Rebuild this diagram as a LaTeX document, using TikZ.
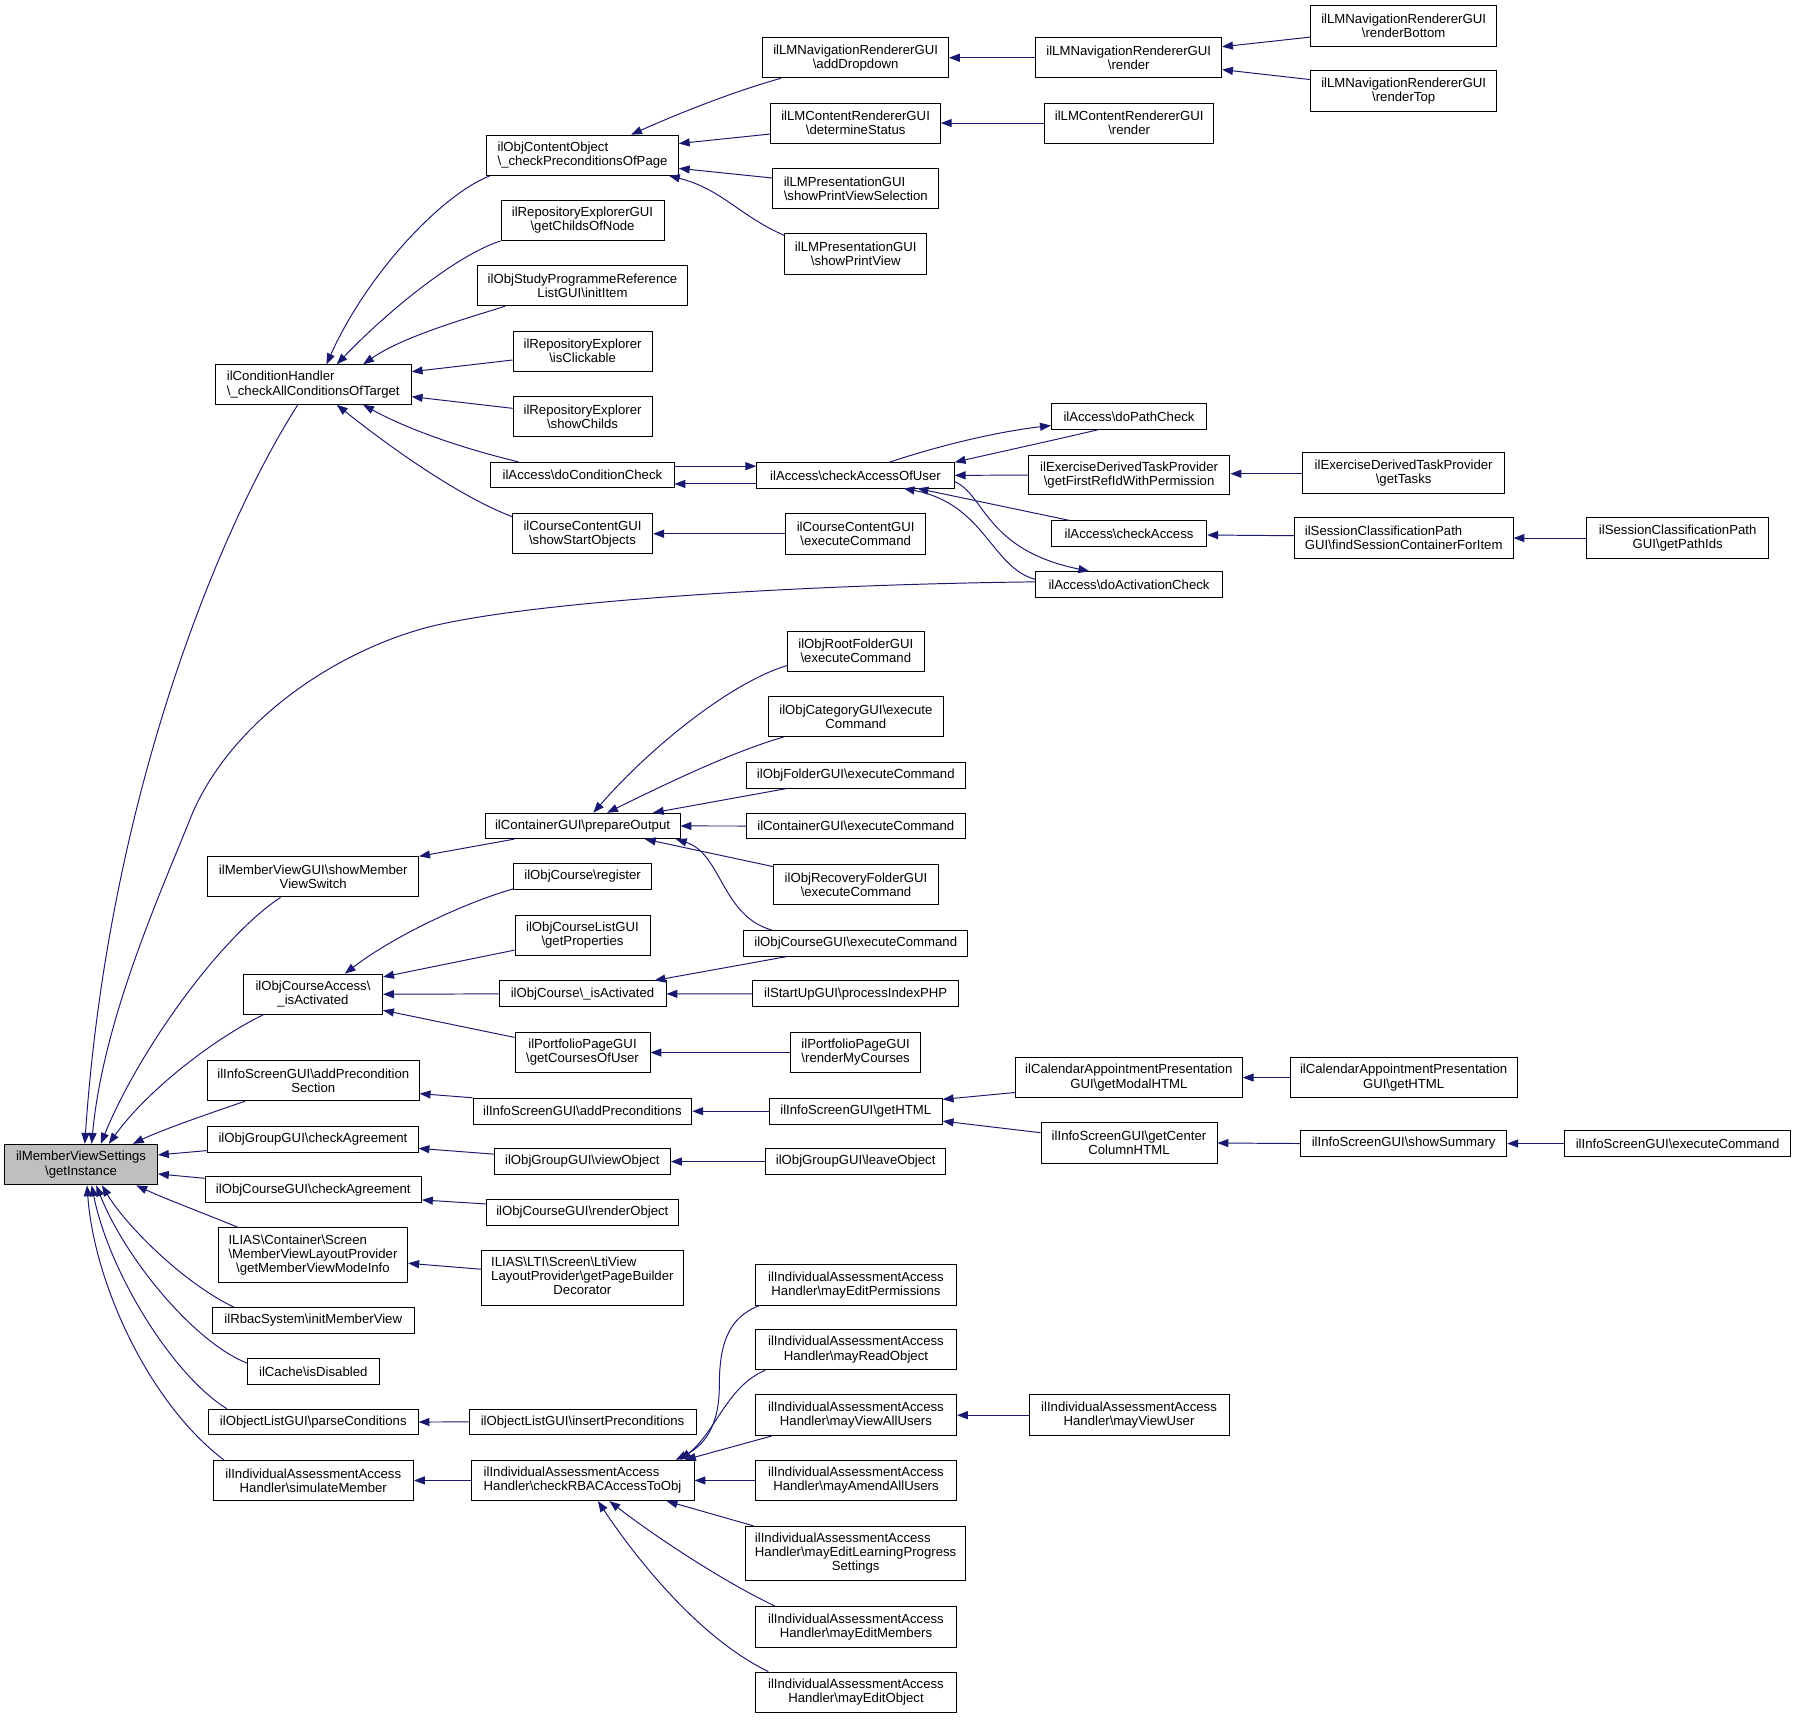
\documentclass[tikz,border=0pt]{standalone}
\usepackage{fontspec}
\setmainfont{Liberation Sans}
\usetikzlibrary{arrows.meta}
\definecolor{edgecol}{HTML}{191970}
\definecolor{selfill}{HTML}{BFBFBF}
\newcommand\BS{\textbackslash}
\begin{document}
\begin{tikzpicture}[x=1pt,y=-1pt,
  box/.style={draw=black,line width=0.8pt,fill=white,inner sep=0pt,align=center,
    font=\fontsize{11.5}{12.3}\selectfont},
  ar/.style={draw=edgecol,line width=0.85pt,-{Triangle[length=9.5pt,width=7pt]}}]
\fill[white] (0,0) rectangle (1568,1501);
\useasboundingbox (0,0) rectangle (1568,1501);
% column 0
\node[box,fill=selfill,minimum width=133.5pt,minimum height=35.5pt] (gi) at (70.75,1016.75) {ilMemberViewSettings\\\BS getInstance};
% column 1
\node[box,align=left,minimum width=171pt,minimum height=34.5pt] (ch) at (273.5,335.75) {ilConditionHandler\\\BS\_checkAllConditionsOfTarget};
\node[box,minimum width=184pt,minimum height=35pt] (mv) at (273.5,765.5) {ilMemberViewGUI\BS showMember\\ViewSwitch};
\node[box,minimum width=121.5pt,minimum height=35pt] (oca) at (273.25,868) {ilObjCourseAccess\BS\\\_isActivated};
\node[box,minimum width=185pt,minimum height=35.5pt] (isp) at (273.5,943.25) {ilInfoScreenGUI\BS addPrecondition\\Section};
\node[box,minimum width=183.5pt,minimum height=22.5pt] (ogca) at (273.25,994.75) {ilObjGroupGUI\BS checkAgreement};
\node[box,minimum width=189pt,minimum height=22.5pt] (occa) at (273.5,1038.75) {ilObjCourseGUI\BS checkAgreement};
\node[box,minimum width=165.5pt,minimum height=48pt] (ilias) at (273.25,1096) {\begin{tabular}{@{}l@{}}ILIAS\BS Container\BS Screen\\\BS MemberViewLayoutProvider\\\multicolumn{1}{@{}c@{}}{\BS getMemberViewModeInfo}\end{tabular}};
\node[box,minimum width=176pt,minimum height=22.5pt] (rbac) at (273.5,1152.75) {ilRbacSystem\BS initMemberView};
\node[box,minimum width=115pt,minimum height=22.5pt] (cache) at (273.5,1197.25) {ilCache\BS isDisabled};
\node[box,minimum width=183pt,minimum height=22.5pt] (olpc) at (273.5,1241.5) {ilObjectListGUI\BS parseConditions};
\node[box,minimum width=175pt,minimum height=35pt] (iasim) at (273.5,1292.5) {ilIndividualAssessmentAccess\\Handler\BS simulateMember};
% column 2
\node[box,align=left,minimum width=167.2pt,minimum height=35pt] (cco) at (508.6,135.5) {ilObjContentObject\\\BS\_checkPreconditionsOfPage};
\node[box,minimum width=142.3pt,minimum height=35pt] (reg) at (508.55,192.5) {ilRepositoryExplorerGUI\\\BS getChildsOfNode};
\node[box,minimum width=183.1pt,minimum height=35pt] (spr) at (508.55,249.5) {ilObjStudyProgrammeReference\\ListGUI\BS initItem};
\node[box,minimum width=121.2pt,minimum height=35.2pt] (rec) at (508.6,306.6) {ilRepositoryExplorer\\\BS isClickable};
\node[box,minimum width=121.2pt,minimum height=35.2pt] (res) at (508.6,363.6) {ilRepositoryExplorer\\\BS showChilds};
\node[box,minimum width=159.8pt,minimum height=22.4pt] (dcc) at (508.5,414.8) {ilAccess\BS doConditionCheck};
\node[box,minimum width=122.5pt,minimum height=35.2pt] (cso) at (508.55,466) {ilCourseContentGUI\\\BS showStartObjects};
\node[box,minimum width=170.2pt,minimum height=22.2pt] (cpo) at (508.6,721.1) {ilContainerGUI\BS prepareOutput};
\node[box,minimum width=120.2pt,minimum height=22.4pt] (ocr) at (508.6,765.2) {ilObjCourse\BS register};
\node[box,minimum width=117.9pt,minimum height=35.2pt] (oclp) at (508.55,816.4) {ilObjCourseListGUI\\\BS getProperties};
\node[box,minimum width=145.8pt,minimum height=22.6pt] (oia) at (508.6,867.7) {ilObjCourse\BS\_isActivated};
\node[box,minimum width=117.9pt,minimum height=35pt] (ppc) at (508.55,918.9) {ilPortfolioPageGUI\\\BS getCoursesOfUser};
\node[box,minimum width=191pt,minimum height=22.7pt] (isap) at (508.5,970.15) {ilInfoScreenGUI\BS addPreconditions};
\node[box,minimum width=153.8pt,minimum height=23pt] (ogvo) at (508.4,1014.1) {ilObjGroupGUI\BS viewObject};
\node[box,minimum width=167.8pt,minimum height=22.3pt] (ocro) at (508.4,1058.55) {ilObjCourseGUI\BS renderObject};
\node[box,minimum width=176.3pt,minimum height=47.6pt] (lti) at (508.45,1115.8) {\begin{tabular}{@{}l@{}}ILIAS\BS LTI\BS Screen\BS LtiView\\LayoutProvider\BS getPageBuilder\\\multicolumn{1}{@{}c@{}}{Decorator}\end{tabular}};
\node[box,minimum width=198.2pt,minimum height=22.2pt] (olip) at (508.6,1241.4) {ilObjectListGUI\BS insertPreconditions};
\node[box,align=left,minimum width=194.7pt,minimum height=35.2pt] (iarb) at (508.55,1292.5) {ilIndividualAssessmentAccess\\Handler\BS checkRBACAccessToObj};
% column 3
\node[box,minimum width=162pt,minimum height=35.2pt] (add) at (747,50.4) {ilLMNavigationRendererGUI\\\BS addDropdown};
\node[box,minimum width=148pt,minimum height=35.1pt] (dst) at (747,107.45) {ilLMContentRendererGUI\\\BS determineStatus};
\node[box,align=left,minimum width=145.1pt,minimum height=35pt] (pvs) at (747.15,164.5) {ilLMPresentationGUI\\\BS showPrintViewSelection};
\node[box,minimum width=124.2pt,minimum height=35.4pt] (pv) at (747.1,221.5) {ilLMPresentationGUI\\\BS showPrintView};
\node[box,minimum width=172.4pt,minimum height=22.1pt] (cau) at (746.9,415) {ilAccess\BS checkAccessOfUser};
\node[box,minimum width=122.5pt,minimum height=35.3pt] (cce) at (747.05,466) {ilCourseContentGUI\\\BS executeCommand};
\node[box,minimum width=119pt,minimum height=35.2pt] (orf) at (747.2,568.5) {ilObjRootFolderGUI\\\BS executeCommand};
\node[box,minimum width=152.8pt,minimum height=34.9pt] (ocat) at (747.2,625.65) {ilObjCategoryGUI\BS execute\\Command};
\node[box,minimum width=190.7pt,minimum height=22.3pt] (ofe) at (747.15,676.85) {ilObjFolderGUI\BS executeCommand};
\node[box,minimum width=190.7pt,minimum height=22.3pt] (cge) at (747.15,721.15) {ilContainerGUI\BS executeCommand};
\node[box,minimum width=143.7pt,minimum height=34.9pt] (orfe) at (747.35,772.35) {ilObjRecoveryFolderGUI\\\BS executeCommand};
\node[box,minimum width=195.8pt,minimum height=22.4pt] (ocge) at (747.1,823.6) {ilObjCourseGUI\BS executeCommand};
\node[box,minimum width=180.1pt,minimum height=22.7pt] (sup) at (747.05,867.65) {ilStartUpGUI\BS processIndexPHP};
\node[box,minimum width=114pt,minimum height=35pt] (ppr) at (747,918.9) {ilPortfolioPageGUI\\\BS renderMyCourses};
\node[box,minimum width=151pt,minimum height=22.7pt] (ish) at (747.1,970.15) {ilInfoScreenGUI\BS getHTML};
\node[box,minimum width=157.1pt,minimum height=23pt] (ogl) at (747.05,1014.1) {ilObjGroupGUI\BS leaveObject};
\node[box,minimum width=175.6pt,minimum height=35.5pt] (iaep) at (747.3,1121.55) {ilIndividualAssessmentAccess\\Handler\BS mayEditPermissions};
\node[box,minimum width=175.6pt,minimum height=35.5pt] (iaro) at (747.3,1178.25) {ilIndividualAssessmentAccess\\Handler\BS mayReadObject};
\node[box,minimum width=175.6pt,minimum height=35.5pt] (iava) at (747.3,1235.55) {ilIndividualAssessmentAccess\\Handler\BS mayViewAllUsers};
\node[box,minimum width=175.6pt,minimum height=35.2pt] (iaaa) at (747.3,1292.5) {ilIndividualAssessmentAccess\\Handler\BS mayAmendAllUsers};
\node[box,minimum width=192pt,minimum height=47.7pt] (ialp) at (747,1356.35) {\begin{tabular}{@{}l@{}}ilIndividualAssessmentAccess\\Handler\BS mayEditLearningProgress\\\multicolumn{1}{@{}c@{}}{Settings}\end{tabular}};
\node[box,minimum width=175.6pt,minimum height=35.5pt] (iaem) at (747.3,1420.35) {ilIndividualAssessmentAccess\\Handler\BS mayEditMembers};
\node[box,minimum width=175.6pt,minimum height=35.5pt] (iaeo) at (747.3,1477.45) {ilIndividualAssessmentAccess\\Handler\BS mayEditObject};
% column 4
\node[box,minimum width=162.1pt,minimum height=35.2pt] (nr) at (985.45,50.4) {ilLMNavigationRendererGUI\\\BS render};
\node[box,minimum width=147.6pt,minimum height=35.1pt] (cr) at (985.8,107.45) {ilLMContentRendererGUI\\\BS render};
\node[box,minimum width=135.6pt,minimum height=22.4pt] (dpc) at (985.7,363.6) {ilAccess\BS doPathCheck};
\node[box,minimum width=176.1pt,minimum height=34.6pt] (edf) at (985.75,414.8) {ilExerciseDerivedTaskProvider\\\BS getFirstRefIdWithPermission};
\node[box,minimum width=135.6pt,minimum height=22.4pt] (chk) at (985.7,466) {ilAccess\BS checkAccess};
\node[box,minimum width=163.2pt,minimum height=22.4pt] (dac) at (985.7,510.3) {ilAccess\BS doActivationCheck};
\node[box,minimum width=198pt,minimum height=35.5pt] (cam) at (985.5,940.75) {ilCalendarAppointmentPresentation\\GUI\BS getModalHTML};
\node[box,minimum width=153.7pt,minimum height=35.4pt] (iscc) at (985.65,997.9) {ilInfoScreenGUI\BS getCenter\\ColumnHTML};
\node[box,minimum width=174.6pt,minimum height=35.5pt] (iavu) at (985.7,1235.55) {ilIndividualAssessmentAccess\\Handler\BS mayViewUser};
% column 5
\node[box,minimum width=162.1pt,minimum height=35.7pt] (nrb) at (1225.45,22.55) {ilLMNavigationRendererGUI\\\BS renderBottom};
\node[box,minimum width=162.1pt,minimum height=35.4pt] (nrt) at (1225.45,79.5) {ilLMNavigationRendererGUI\\\BS renderTop};
\node[box,minimum width=176.1pt,minimum height=35.4pt] (edt) at (1225.45,412.7) {ilExerciseDerivedTaskProvider\\\BS getTasks};
\node[box,align=left,minimum width=191pt,minimum height=35.5pt] (scf) at (1225.5,469.75) {ilSessionClassificationPath\\GUI\BS findSessionContainerForItem};
\node[box,minimum width=197.9pt,minimum height=35.5pt] (cah) at (1225.45,940.75) {ilCalendarAppointmentPresentation\\GUI\BS getHTML};
\node[box,minimum width=180.1pt,minimum height=22.3pt] (iss) at (1225.45,998.35) {ilInfoScreenGUI\BS showSummary};
% column 6
\node[box,minimum width=158.6pt,minimum height=35.5pt] (scp) at (1464.7,469.75) {ilSessionClassificationPath\\GUI\BS getPathIds};
\node[box,minimum width=196.8pt,minimum height=22.3pt] (ise) at (1464.6,998.35) {ilInfoScreenGUI\BS executeCommand};

% ---- edges into getInstance
\draw[ar] (ch.south -| 260,0) .. controls (195,455) and (95,690) .. (gi.north -| 74,0);
\draw[ar] (dac.west |- 0,508) .. controls (720,510) and (480,523) .. (380,546)
  .. controls (300,565) and (205,625) .. (168,710)
  .. controls (140,780) and (90,890) .. (gi.north -| 80,0);
\draw[ar] (mv.south -| 245,0) .. controls (190,820) and (120,920) .. (gi.north -| 88,0);
\draw[ar] (oca.south -| 230,0) .. controls (190,905) and (130,950) .. (gi.north -| 95,0);
\draw[ar] (isp.south -| 214,0) .. controls (180,973) and (140,987) .. (gi.north -| 116,0);
\draw[ar] (ogca.west |- 0,1004.5) -- (gi.east |- 0,1008.3);
\draw[ar] (occa.west |- 0,1028.7) -- (gi.east |- 0,1024.9);
\draw[ar] (ilias.north -| 208,0) .. controls (180,1060) and (145,1047) .. (gi.south -| 119,0);
\draw[ar] (rbac.north -| 204,0) .. controls (160,1120) and (110,1070) .. (gi.south -| 89,0);
\draw[ar] (cache.west |- 0,1190) .. controls (170,1172) and (110,1100) .. (gi.south -| 84,0);
\draw[ar] (olpc.north -| 198,0) .. controls (150,1200) and (95,1110) .. (gi.south -| 80,0);
\draw[ar] (iasim.north -| 195.5,0) .. controls (130,1225) and (82,1120) .. (gi.south -| 76,0);
% ---- into ilConditionHandler
\draw[ar] (cco.south -| 428,0) .. controls (385,170) and (320,240) .. (ch.north -| 285,0);
\draw[ar] (reg.south west) .. controls (400,222) and (340,270) .. (ch.north -| 294,0);
\draw[ar] (spr.south -| 441,0) .. controls (400,280) and (350,295) .. (ch.north -| 317,0);
\draw[ar] (rec.west |- 0,314.3) -- (ch.east |- 0,324.5);
\draw[ar] (res.west |- 0,356.5) -- (ch.east |- 0,346.3);
\draw[ar] (dcc.north -| 452.5,0) .. controls (410,393) and (360,377) .. (ch.south -| 317,0);
\draw[ar] (cso.west |- 0,451) .. controls (400,433) and (340,390) .. (ch.south -| 294,0);
% ---- into checkPreconditionsOfPage
\draw[ar] (add.south -| 681.6,0) .. controls (640,80) and (590,100) .. (cco.north -| 551,0);
\draw[ar] (dst.west |- 0,117) -- (cco.east |- 0,125.3);
\draw[ar] (pvs.west |- 0,155.4) -- (cco.east |- 0,147);
\draw[ar] (pv.west |- 0,205.5) .. controls (645,188) and (630,165) .. (cco.south -| 584,0);
\draw[ar] (nr.west) -- (add.east);
\draw[ar] (nrb.west |- 0,32.4) -- (nr.east |- 0,40.8);
\draw[ar] (nrt.west |- 0,69.5) -- (nr.east |- 0,60.8);
\draw[ar] (cr.west) -- (dst.east);
% ---- ilAccess cluster
\draw[ar] (dcc.east |- 0,407) -- (cau.west |- 0,407);
\draw[ar] (cau.west |- 0,422.5) -- (dcc.east |- 0,422.5);
\draw[ar] (cau.north -| 776.4,0) .. controls (820,389) and (870,377) .. (dpc.west |- 0,371.5);
\draw[ar] (dpc.south -| 958.6,0) .. controls (930,382) and (880,393) .. (cau.north east);
\draw[ar] (edf.west) -- (cau.east);
\draw[ar] (chk.north -| 934,0) -- (cau.south -| 801,0);
\draw[ar] (dac.west |- 0,505.8) .. controls (865,495) and (860,440) .. (cau.south -| 789,0);
\draw[ar] (cau.east |- 0,420.5) .. controls (860,432) and (860,480) .. (dac.north -| 951,0);
\draw[ar] (edt.west |- 0,413.6) -- (edf.east |- 0,413.6);
\draw[ar] (scf.west |- 0,467.7) -- (chk.east |- 0,467.1);
\draw[ar] (scp.west) -- (scf.east);
\draw[ar] (cce.west) -- (cso.east);
% ---- prepareOutput
\draw[ar] (orf.west |- 0,581) .. controls (640,595) and (570,650) .. (cpo.north -| 518,0);
\draw[ar] (ocat.south -| 684,0) .. controls (640,656) and (580,685) .. (cpo.north -| 530,0);
\draw[ar] (ofe.south -| 687,0) -- (cpo.north -| 570,0);
\draw[ar] (cge.west) -- (cpo.east);
\draw[ar] (orfe.west |- 0,756.6) -- (cpo.south -| 563,0);
\draw[ar] (ocge.north -| 674,0) .. controls (630,800) and (630,745) .. (cpo.south -| 590,0);
\draw[ar] (cpo.south -| 449,0) -- (mv.north east);
% ---- isActivated
\draw[ar] (ocr.west |- 0,776) .. controls (400,790) and (340,820) .. (oca.north -| 301,0);
\draw[ar] (oclp.west |- 0,829.5) -- (oca.east |- 0,852.9);
\draw[ar] (oia.west) -- (oca.east);
\draw[ar] (ppc.west |- 0,905.7) -- (oca.east |- 0,882);
\draw[ar] (ocge.south -| 686.6,0) -- (oia.north -| 571.4,0);
\draw[ar] (sup.west) -- (oia.east);
\draw[ar] (ppr.west) -- (ppc.east);
% ---- info screen
\draw[ar] (isap.north west) -- (isp.east |- 0,954.8);
\draw[ar] (ish.west) -- (isap.east);
\draw[ar] (cam.west |- 0,953.8) -- (ish.east |- 0,959.8);
\draw[ar] (iscc.west |- 0,988.9) -- (ish.east |- 0,978.8);
\draw[ar] (cah.west) -- (cam.east);
\draw[ar] (iss.west) -- (iscc.east);
\draw[ar] (ise.west) -- (iss.east);
% ---- group / course / misc
\draw[ar] (ogvo.west |- 0,1007.6) -- (ogca.east |- 0,1002.6);
\draw[ar] (ogl.west) -- (ogvo.east);
\draw[ar] (ocro.west |- 0,1051.1) -- (occa.east |- 0,1047.6);
\draw[ar] (lti.west |- 0,1108.1) -- (ilias.east |- 0,1102.9);
\draw[ar] (olip.west) -- (olpc.east);
\draw[ar] (iarb.west) -- (iasim.east);
% ---- checkRBACAccessToObj
\draw[ar] (iaep.south -| 663.5,0) .. controls (635,1150) and (628,1175) .. (628,1210)
  .. controls (628,1245) and (615,1262) .. (iarb.north -| 590,0);
\draw[ar] (iaro.south -| 668,0) .. controls (635,1210) and (625,1250) .. (iarb.north -| 594,0);
\draw[ar] (iava.south -| 673.7,0) -- (iarb.north -| 598,0);
\draw[ar] (iaaa.west) -- (iarb.east);
\draw[ar] (ialp.north -| 657.7,0) -- (iarb.south -| 582,0);
\draw[ar] (iaem.north -| 676.6,0) .. controls (630,1380) and (570,1340) .. (iarb.south -| 532,0);
\draw[ar] (iaeo.north -| 670.8,0) .. controls (610,1430) and (555,1360) .. (iarb.south -| 522,0);
\draw[ar] (iavu.west) -- (iava.east);
\end{tikzpicture}
\end{document}
